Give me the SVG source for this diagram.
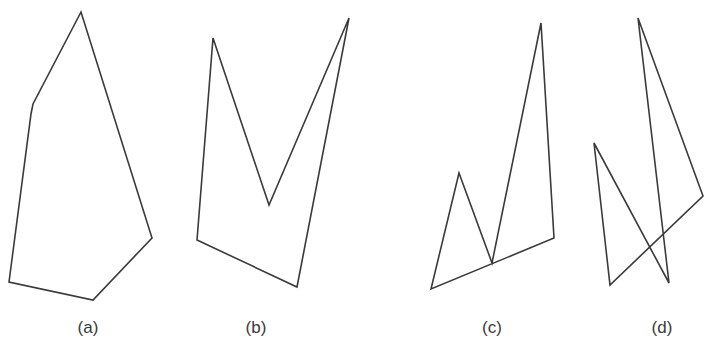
<svg xmlns="http://www.w3.org/2000/svg" width="704" height="337" viewBox="0 0 704 337">
<style>
.p{fill:none;stroke:#3a3a3a;stroke-width:1.6;stroke-linejoin:miter}
.l{font-family:"Liberation Sans",Arial,sans-serif;font-size:17px;fill:#3a3a3a;text-anchor:middle}
</style>
<rect width="704" height="337" fill="#ffffff"/>
<g id="a">
<polygon class="p" points="81,12 33,104 31,114 9,282 93,300 152,238"/>
<text class="l" x="88" y="333">(a)</text>
</g>
<g id="b">
<polygon class="p" points="197,240 213,38 269,205 349,18 297,287"/>
<text class="l" x="256" y="333">(b)</text>
</g>
<g id="c">
<polygon class="p" points="431,289 459,173 492,263 541,23 554,238"/>
<text class="l" x="492" y="333">(c)</text>
</g>
<g id="d">
<polygon class="p" points="638,18 703,196 610,285 594,143 669,283"/>
<text class="l" x="662" y="333">(d)</text>
</g>
</svg>
